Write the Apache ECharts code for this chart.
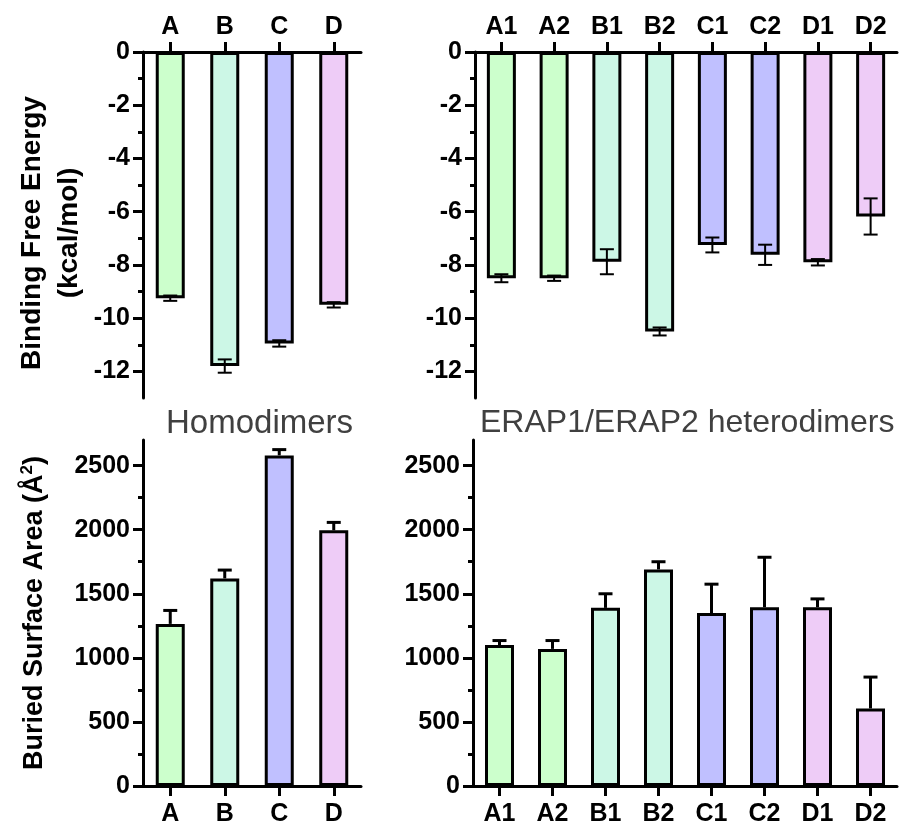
<!DOCTYPE html>
<html>
<head>
<meta charset="utf-8">
<script src="https://cdn.jsdelivr.net/npm/echarts@6/dist/echarts.min.js"></script>
<style>
  html, body { margin: 0; padding: 0; background: #fff; }
  #chart { width: 919px; height: 827px; }
</style>
</head>
<body>
<div id="chart"></div>
<script>
const homoCats = ['A', 'B', 'C', 'D']
const heteroCats = ['A1', 'A2', 'B1', 'B2', 'C1', 'C2', 'D1', 'D2']

// binding free energy, kcal/mol
const homoEnergy = [-9.25, -11.8, -10.95, -9.5]
const homoEnergyErr = [0.1, 0.25, 0.12, 0.1]
const heteroEnergy = [-8.5, -8.5, -7.88, -10.5, -7.25, -7.62, -7.9, -6.18]
const heteroEnergyErr = [0.15, 0.1, 0.47, 0.15, 0.28, 0.38, 0.12, 0.68]

// buried surface area, A^2
const homoArea = [1265, 1620, 2580, 1995]
const homoAreaErr = [105, 65, 45, 62]
const heteroArea = [1100, 1070, 1390, 1690, 1350, 1395, 1395, 605]
const heteroAreaErr = [35, 65, 110, 60, 225, 390, 65, 245]

const energyTicks = [0, -2, -4, -6, -8, -10, -12]
const energyMinorTicks = [-1, -3, -5, -7, -9, -11]
const areaTicks = [0, 500, 1000, 1500, 2000, 2500]
const areaMinorTicks = [250, 750, 1250, 1750, 2250]

const homoColors = ['#ccffcc', '#ccf7e6', '#c0c0ff', '#eeccf7']
const heteroColors = ['#ccffcc', '#ccffcc', '#ccf7e6', '#ccf7e6', '#c0c0ff', '#c0c0ff', '#eeccf7', '#eeccf7']

const FONT = '"Liberation Sans", Arial, sans-serif'
const black = { color: '#000', width: 3 }

const catAxis = (grid, data, pos, inside, main) => ({
  gridIndex: grid,
  type: 'category',
  data: data,
  position: pos,
  axisLine: { show: main, onZero: false, lineStyle: black },
  axisTick: { show: true, inside: inside, length: 10, alignWithLabel: true, lineStyle: black },
  axisLabel: { show: main, margin: pos === 'top' ? 12 : 16, color: '#000', fontSize: 25, fontWeight: 'bold', fontFamily: FONT },
  splitLine: { show: false }
})

const valAxis = (grid, min, max, ticks, name, gap, nameStyle) => ({
  gridIndex: grid,
  type: 'value',
  min: min,
  max: max,
  position: 'left',
  name: name,
  nameLocation: 'middle',
  nameGap: gap,
  nameRotate: 90,
  nameTextStyle: Object.assign({ color: '#000', fontSize: 27, fontWeight: 'bold', fontFamily: FONT }, nameStyle),
  axisLine: { show: true, onZero: false, lineStyle: black },
  axisTick: { show: true, length: 10, customValues: ticks, lineStyle: black },
  axisLabel: { customValues: ticks, formatter: v => String(v), margin: 13, color: '#000', fontSize: 25, fontWeight: 'bold', fontFamily: FONT },
  splitLine: { show: false }
})

const minorAxis = (grid, min, max, ticks) => ({
  gridIndex: grid,
  type: 'value',
  min: min,
  max: max,
  position: 'left',
  axisLine: { show: false },
  axisTick: { show: true, length: 5, customValues: ticks, lineStyle: black },
  axisLabel: { show: false },
  splitLine: { show: false }
})

const barSeries = (xi, yi, values, colors) => ({
  type: 'bar',
  xAxisIndex: xi,
  yAxisIndex: yi,
  barWidth: 29,
  data: values.map((v, i) => ({ value: v, itemStyle: { color: colors[i] } })),
  itemStyle: { borderColor: '#000', borderWidth: 3 },
  silent: true
})

const errSeries = (xi, yi, values, errs, both, lw) => ({
  type: 'custom',
  xAxisIndex: xi,
  yAxisIndex: yi,
  z: 5,
  silent: true,
  data: values.map((v, i) => [i, v, errs[i]]),
  renderItem: (params, api) => {
    const i = api.value(0), v = api.value(1), e = api.value(2)
    const hi = api.coord([i, v + e])
    const lo = api.coord([i, both ? v - e : v])
    const st = { stroke: '#000', lineWidth: lw }
    const kids = [
      { type: 'line', shape: { x1: hi[0], y1: hi[1], x2: lo[0], y2: lo[1] }, style: st },
      { type: 'line', shape: { x1: hi[0] - 7, y1: hi[1], x2: hi[0] + 7, y2: hi[1] }, style: st }
    ]
    if (both) {
      kids.push({ type: 'line', shape: { x1: lo[0] - 7, y1: lo[1], x2: lo[0] + 7, y2: lo[1] }, style: st })
    }
    return { type: 'group', children: kids }
  }
})

const chart = echarts.init(document.getElementById('chart'))
chart.setOption({
  backgroundColor: '#fff',
  animation: false,
  title: [
    { text: 'Homodimers', left: 166, top: 407, padding: 0,
      textStyle: { color: '#404040', fontSize: 33, fontWeight: 'normal', fontFamily: FONT } },
    { text: 'ERAP1/ERAP2 heterodimers', left: 480, top: 407, padding: 0,
      textStyle: { color: '#404040', fontSize: 32, fontWeight: 'normal', fontFamily: FONT } }
  ],
  grid: [
    { left: 143, top: 52, width: 218, height: 346 },
    { left: 475, top: 52, width: 422, height: 346 },
    { left: 143, top: 440, width: 218, height: 347 },
    { left: 473, top: 440, width: 424, height: 347 }
  ],
  xAxis: [
    catAxis(0, homoCats, 'top', false, true),
    catAxis(0, homoCats, 'top', true, false),
    catAxis(1, heteroCats, 'top', false, true),
    catAxis(1, heteroCats, 'top', true, false),
    catAxis(2, homoCats, 'bottom', false, true),
    catAxis(3, heteroCats, 'bottom', false, true)
  ],
  yAxis: [
    valAxis(0, -13, 0, energyTicks, 'Binding Free Energy\n(kcal/mol)', 55,
      { fontSize: 28, lineHeight: 37, padding: [0, 16, 0, 0] }),
    minorAxis(0, -13, 0, energyMinorTicks),
    valAxis(1, -13, 0, energyTicks, '', 0, {}),
    minorAxis(1, -13, 0, energyMinorTicks),
    valAxis(2, 0, 2700, areaTicks, 'Buried Surface Area (Å{sup|2})', 93,
      { rich: { sup: { fontSize: 17, fontWeight: 'bold', verticalAlign: 'top', padding: [0, 0, 14, 0], fontFamily: FONT, color: '#000' } } }),
    minorAxis(2, 0, 2700, areaMinorTicks),
    valAxis(3, 0, 2700, areaTicks, '', 0, {}),
    minorAxis(3, 0, 2700, areaMinorTicks)
  ],
  series: [
    barSeries(0, 0, homoEnergy, homoColors),
    errSeries(0, 0, homoEnergy, homoEnergyErr, true, 2),
    barSeries(2, 2, heteroEnergy, heteroColors),
    errSeries(2, 2, heteroEnergy, heteroEnergyErr, true, 2),
    barSeries(4, 4, homoArea, homoColors),
    errSeries(4, 4, homoArea, homoAreaErr, false, 3),
    barSeries(5, 6, heteroArea, heteroColors),
    errSeries(5, 6, heteroArea, heteroAreaErr, false, 3)
  ]
})
</script>
</body>
</html>
